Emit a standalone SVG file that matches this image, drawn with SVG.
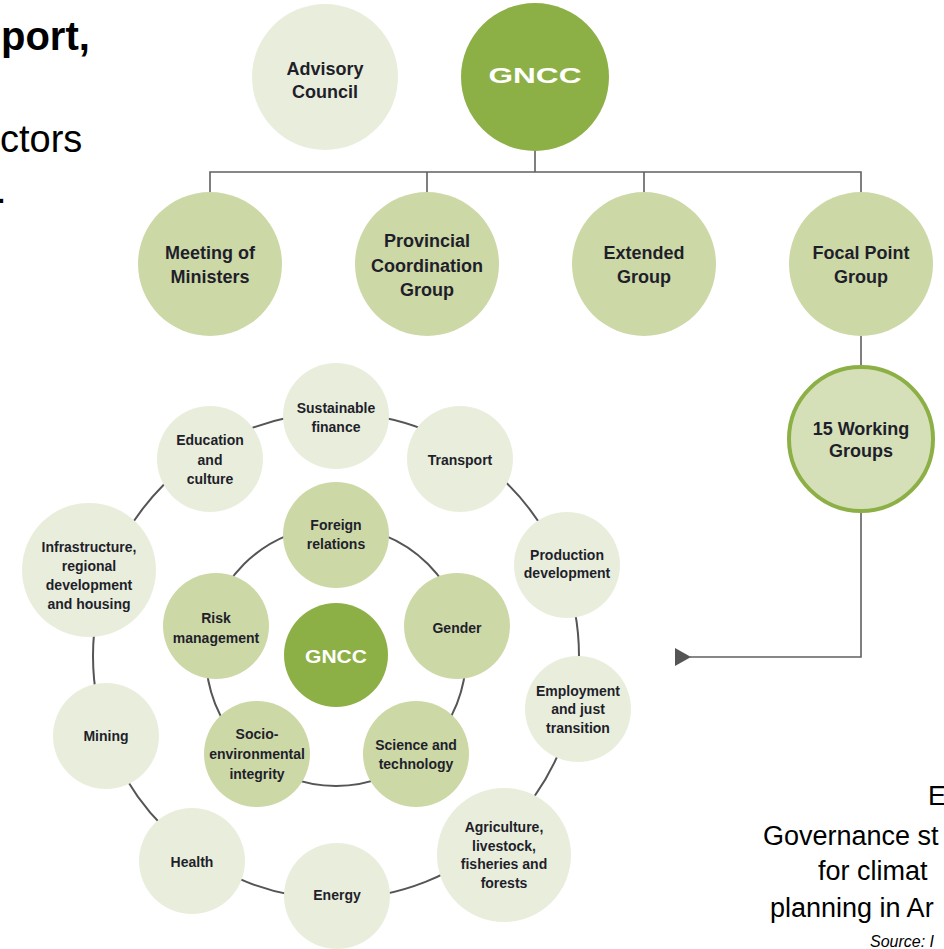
<svg xmlns="http://www.w3.org/2000/svg" width="944" height="949" viewBox="0 0 944 949">
<style>
.lt{fill:#e9eedc}
.md{fill:#cdd8a7}
.dk{fill:#8db046}
.wg{fill:#d6e0b8;stroke:#8db046;stroke-width:4}
.t{font-family:"Liberation Sans",Arial,sans-serif;font-weight:bold;fill:#1f1f2b;text-anchor:middle}
.t18{font-size:18px}
.t14{font-size:14px}
.w{font-family:"Liberation Sans",Arial,sans-serif;font-weight:bold;fill:#ffffff;text-anchor:middle}
.ln{fill:none;stroke:#606060;stroke-width:1.6}
.ring{fill:none;stroke:#555555;stroke-width:2}
.cap{font-family:"Liberation Sans",Arial,sans-serif;fill:#000000;font-size:27px}
</style>
<defs>
<marker id="ah" markerWidth="16" markerHeight="20" refX="1" refY="10" orient="auto" markerUnits="userSpaceOnUse">
<path d="M16,1 L0,10 L16,19 Z" fill="#555555"/>
</marker>
</defs>
<rect width="944" height="949" fill="#ffffff"/>

<g id="title-text">
<text x="1" y="50" style="font-family:'Liberation Sans',Arial,sans-serif;font-weight:bold;font-size:40px" fill="#000">port,</text>
<text x="0" y="152" style="font-family:'Liberation Sans',Arial,sans-serif;font-size:38px" fill="#000">ctors</text>
<text x="-4" y="203" style="font-family:'Liberation Sans',Arial,sans-serif;font-size:38px" fill="#000">.</text>
</g>

<g id="connectors">
<path class="ln" d="M535,150 V172 M210,193 V172 H861 V193 M427,172 V193 M644,172 V193"/>
<path class="ln" d="M861,336 V366 M861,512 V657 H690" marker-end="url(#ah)"/>
<circle class="ring" cx="336" cy="656" r="243"/>
<circle class="ring" cx="336" cy="656" r="130"/>
</g>

<g id="advisory-council">
<circle class="lt" cx="325" cy="77" r="73"/>
<text class="t t18"><tspan x="325" y="75">Advisory</tspan><tspan x="325" y="98">Council</tspan></text>
</g>
<g id="gncc-top">
<circle class="dk" cx="535" cy="77" r="74"/>
<text class="w" x="535" y="83" font-size="22" textLength="93" lengthAdjust="spacingAndGlyphs">GNCC</text>
</g>
<g id="meeting-of-ministers">
<circle class="md" cx="210" cy="264" r="72"/>
<text class="t t18"><tspan x="210" y="259">Meeting of</tspan><tspan x="210" y="283">Ministers</tspan></text>
</g>
<g id="provincial-coordination-group">
<circle class="md" cx="427" cy="264" r="72"/>
<text class="t t18"><tspan x="427" y="247">Provincial</tspan><tspan x="427" y="272">Coordination</tspan><tspan x="427" y="296">Group</tspan></text>
</g>
<g id="extended-group">
<circle class="md" cx="644" cy="264" r="72"/>
<text class="t t18"><tspan x="644" y="259">Extended</tspan><tspan x="644" y="283">Group</tspan></text>
</g>
<g id="focal-point-group">
<circle class="md" cx="861" cy="264" r="72"/>
<text class="t t18"><tspan x="861" y="259">Focal Point</tspan><tspan x="861" y="283">Group</tspan></text>
</g>
<g id="working-groups">
<circle class="wg" cx="861" cy="439" r="72"/>
<text class="t t18"><tspan x="861" y="435">15 Working</tspan><tspan x="861" y="457">Groups</tspan></text>
</g>

<g id="sustainable-finance">
<circle class="lt" cx="336" cy="416" r="53"/>
<text class="t t14"><tspan x="336" y="413">Sustainable</tspan><tspan x="336" y="432">finance</tspan></text>
</g>
<g id="transport">
<circle class="lt" cx="460" cy="459" r="53"/>
<text class="t t14" x="460" y="465">Transport</text>
</g>
<g id="production-development">
<circle class="lt" cx="567" cy="565" r="53"/>
<text class="t t14"><tspan x="567" y="560">Production</tspan><tspan x="567" y="578">development</tspan></text>
</g>
<g id="employment">
<circle class="lt" cx="578" cy="709" r="53"/>
<text class="t t14"><tspan x="578" y="696">Employment</tspan><tspan x="578" y="714">and just</tspan><tspan x="578" y="733">transition</tspan></text>
</g>
<g id="agriculture">
<circle class="lt" cx="504" cy="855" r="67"/>
<text class="t t14"><tspan x="504" y="832">Agriculture,</tspan><tspan x="504" y="851">livestock,</tspan><tspan x="504" y="869">fisheries and</tspan><tspan x="504" y="888">forests</tspan></text>
</g>
<g id="energy">
<circle class="lt" cx="337" cy="896" r="53"/>
<text class="t t14" x="337" y="900">Energy</text>
</g>
<g id="health">
<circle class="lt" cx="192" cy="861" r="53"/>
<text class="t t14" x="192" y="867">Health</text>
</g>
<g id="mining">
<circle class="lt" cx="106" cy="736" r="53"/>
<text class="t t14" x="106" y="741">Mining</text>
</g>
<g id="infrastructure">
<circle class="lt" cx="89" cy="570" r="67"/>
<text class="t t14"><tspan x="89" y="552">Infrastructure,</tspan><tspan x="89" y="571">regional</tspan><tspan x="89" y="590">development</tspan><tspan x="89" y="609">and housing</tspan></text>
</g>
<g id="education-culture">
<circle class="lt" cx="210" cy="459" r="53"/>
<text class="t t14"><tspan x="210" y="445">Education</tspan><tspan x="210" y="465">and</tspan><tspan x="210" y="484">culture</tspan></text>
</g>

<g id="foreign-relations">
<circle class="md" cx="336" cy="535" r="53"/>
<text class="t t14"><tspan x="336" y="530">Foreign</tspan><tspan x="336" y="549">relations</tspan></text>
</g>
<g id="gender">
<circle class="md" cx="457" cy="626" r="53"/>
<text class="t t14" x="457" y="633">Gender</text>
</g>
<g id="science-technology">
<circle class="md" cx="416" cy="754" r="53"/>
<text class="t t14"><tspan x="416" y="750">Science and</tspan><tspan x="416" y="769">technology</tspan></text>
</g>
<g id="socio-environmental">
<circle class="md" cx="257" cy="754" r="53"/>
<text class="t t14"><tspan x="257" y="739">Socio-</tspan><tspan x="257" y="759">environmental</tspan><tspan x="257" y="779">integrity</tspan></text>
</g>
<g id="risk-management">
<circle class="md" cx="216" cy="626" r="53"/>
<text class="t t14"><tspan x="216" y="623">Risk</tspan><tspan x="216" y="643">management</tspan></text>
</g>
<g id="gncc-center">
<circle class="dk" cx="336" cy="655" r="52"/>
<text class="w" x="336" y="663" font-size="18" textLength="62" lengthAdjust="spacingAndGlyphs">GNCC</text>
</g>

<g id="caption">
<text class="cap" x="928" y="805">Ex</text>
<text class="cap" x="763" y="845">Governance st</text>
<text class="cap" x="818" y="880">for climat</text>
<text class="cap" x="770" y="917">planning in Ar</text>
<text x="870" y="947" style="font-family:'Liberation Sans',Arial,sans-serif;font-style:italic;font-size:16px" fill="#000">Source: I</text>
</g>
</svg>
